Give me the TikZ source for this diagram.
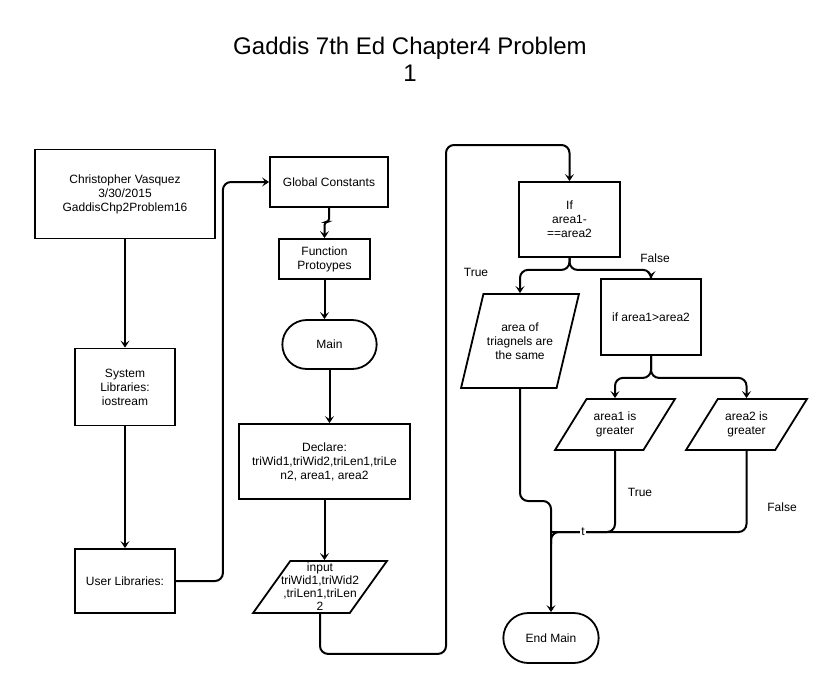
\documentclass[tikz,border=0pt]{standalone}
\usepackage{fontspec}
\setmainfont{Liberation Sans}
\usetikzlibrary{shapes.geometric,shapes.misc,arrows.meta}

\begin{document}
\begin{tikzpicture}[x=1pt, y=-1pt,
    font=\fontsize{12}{14}\selectfont,
    box/.style={draw, line width=1.8pt, align=center, inner sep=2pt},
    term/.style={draw, line width=1.8pt, rounded rectangle, minimum width=101pt, minimum height=49pt},
    io/.style={draw, line width=1.8pt, trapezium, trapezium stretches=true,
        trapezium left angle=#1, trapezium right angle={180-#1}},
    txt/.style={align=center, inner sep=0pt},
    wire/.style={line width=2pt, rounded corners=8pt},
    arr/.style={wire, -{Stealth[length=7pt, width=9pt, inset=3pt]}}]
    \useasboundingbox (0,0) rectangle (835,683);

    % Titel
    \node[txt, font=\fontsize{24}{27}\selectfont] (title) at (410,59) {Gaddis 7th Ed Chapter4 Problem\\1};

    % Linke Spalte
    \node[box, minimum width=180pt, minimum height=89pt] (auth) at (125,194) {Christopher Vasquez\\3/30/2015\\GaddisChp2Problem16};
    \node[box, minimum width=100pt, minimum height=77pt] (syslib) at (125,387) {System\\Libraries:\\iostream};
    \node[box, minimum width=100pt, minimum height=64pt] (usrlib) at (125,581) {User Libraries:};

    % Mittlere Spalte
    \node[box, minimum width=118pt, minimum height=50pt] (glob) at (329,182) {Global Constants};
    \node[box, minimum width=91pt, minimum height=40pt] (proto) at (324.5,259) {Function\\Protoypes};
    \node[term] (main) at (329.5,344.5) {Main};
    \node[box, minimum width=171pt, minimum height=75pt] (decl) at (324.5,461.5) {Declare:\\triWid1,triWid2,triLen1,triLe\\n2, area1, area2};
    \node[io=58, minimum width=134pt, minimum height=52pt] (inp) at (320,587) {};
    \node[txt, font=\fontsize{12}{13}\selectfont] (inptxt) at (inp) {input\\triWid1,triWid2\\,triLen1,triLen\\2};

    % Rechte Seite
    \node[box, minimum width=101pt, minimum height=75pt] (ifeq) at (569.5,219.5) {If\\area1-\\==area2};
    \node[io=73, minimum width=118pt, minimum height=94pt] (same) at (520,341) {};
    \node[txt] (sametxt) at (same) {area of\\triagnels are\\the same};
    \node[box, minimum width=100pt, minimum height=76pt] (ifgt) at (651,317) {if area1>area2};
    \node[io=61, minimum width=120pt, minimum height=51pt] (gt1) at (615,424.5) {};
    \node[txt] (gt1txt) at (gt1) {area1 is\\greater};
    \node[io=61, minimum width=121pt, minimum height=51pt] (gt2) at (746.5,424.5) {};
    \node[txt] (gt2txt) at (gt2) {area2 is\\greater};
    \node[term, minimum width=102pt, minimum height=50pt] (endm) at (551,638) {End Main};

    % Verbindungen
    \draw[arr] (auth) -- (syslib);
    \draw[arr] (syslib) -- (usrlib);
    \draw[arr] (usrlib.east) -- ++(47,0) |- (glob.west);
    \draw[arr, rounded corners=3pt] (glob.south) -- ++(0,14) -| (proto.north);
    \draw[arr] (proto.south) -- (proto.south |- main.north);
    \draw[arr] (main.south) -- (main.south |- decl.north);
    \draw[arr] (decl.south) -- (decl.south |- inp.north);
    \draw[arr] (inp.south) -- ++(0,40) -| (446,145) -| (ifeq.north);
    \draw[arr] (ifeq.south) -- ++(0,12) -| (same.north);
    \draw[arr] (ifeq.south) -- ++(0,12) -| (ifgt.north);
    \draw[arr] (ifgt.south) -- ++(0,22) -| (gt1.north);
    \draw[arr] (ifgt.south) -- ++(0,22) -| (gt2.north);

    % Zusammenfuehrung
    \coordinate (mg) at (551,501);
    \coordinate (tj) at (551,532);
    \draw[arr] (same.south) |- (mg) -- (endm.north);
    \draw[wire] (gt1.south) |- (tj) -- ++(0,12);
    \draw[wire] (gt2.south) |- (tj);
    \node[fill=white, inner sep=1pt] (tlbl) at (583,532) {t};

    % Beschriftungen
    \node (true1) at (476,272) {True};
    \node (false1) at (655,258) {False};
    \node (true2) at (640,492) {True};
    \node (false2) at (782,507) {False};
\end{tikzpicture}
\end{document}
